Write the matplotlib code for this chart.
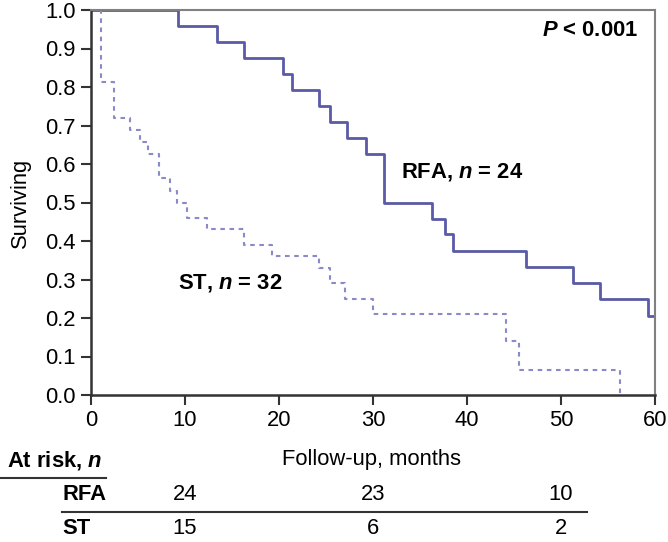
import numpy as np
import matplotlib.pyplot as plt

plt.rcParams['font.family'] = ['Liberation Sans', 'DejaVu Sans']
plt.rcParams['mathtext.fontset'] = 'custom'
plt.rcParams['mathtext.it'] = 'Liberation Sans:italic:bold'
plt.rcParams['mathtext.rm'] = 'Liberation Sans:bold'
plt.rcParams['mathtext.bf'] = 'Liberation Sans:bold'

# Kaplan-Meier steps
rfa_t = [0, 9.3, 13.4, 16.3, 20.4, 21.4, 24.3, 25.4, 27.2, 29.3, 31.2, 36.3, 37.7, 38.5, 46.3, 51.3, 54.2, 59.3, 60]
rfa_s = [1.0, 0.958, 0.917, 0.875, 0.833, 0.792, 0.75, 0.708, 0.667, 0.625, 0.5, 0.458, 0.417, 0.375, 0.333, 0.292, 0.25, 0.205, 0.205]

st_t = [0, 1.1, 2.4, 4.1, 5.2, 6.1, 7.2, 8.4, 9.1, 10.2, 12.3, 16.3, 19.3, 24.3, 25.4, 27.0, 30.0, 44.2, 45.5, 56.3]
st_s = [1.0, 0.813, 0.719, 0.688, 0.656, 0.625, 0.563, 0.531, 0.5, 0.46, 0.43, 0.39, 0.36, 0.33, 0.29, 0.25, 0.21, 0.14, 0.065, 0.0]

risk_months = [10, 30, 50]
risk_rfa = [24, 23, 10]
risk_st = [15, 6, 2]

W, H = 668, 542
FS = 15.8
fig = plt.figure(figsize=(W / 100, H / 100), dpi=100)
ax = fig.add_axes([91 / W, 1 - 395 / H, (655 - 91) / W, (395 - 10) / H])

ax.step(rfa_t, rfa_s, where='post', color='#5a5aa6', lw=2.0)
ax.step(st_t, st_s, where='post', color='#8a8ac8', lw=1.5, dashes=(2.2, 2.2))

ax.set_xlim(0, 60)
ax.set_ylim(0, 1.0)
ax.set_xticks(np.arange(0, 61, 10))
ax.set_yticks(np.arange(0, 1.01, 0.1))
ax.set_yticklabels([f"{v:.1f}" for v in np.arange(0, 1.01, 0.1)])
ax.tick_params(direction='out', length=7, width=1.5, labelsize=FS, color='#333333', pad=4)
for s in ['left', 'bottom']:
    ax.spines[s].set_color('#333333')
    ax.spines[s].set_linewidth(1.8)
for s in ['top', 'right']:
    ax.spines[s].set_color('#808080')
    ax.spines[s].set_linewidth(1.5)
ax.set_ylabel("Surviving", fontsize=FS, labelpad=10)

ax.text(0.97, 0.975, r"$P$ < 0.001", transform=ax.transAxes, ha='right', va='top',
        fontsize=FS, fontweight='bold')
ax.text(39.5, 0.58, r"RFA, $n$ = 24", ha='center', va='center', fontsize=FS, fontweight='bold')
ax.text(14.8, 0.29, r"ST, $n$ = 32", ha='center', va='center', fontsize=FS, fontweight='bold')

def fx(px):
    return px / W

def fy(py):
    return 1 - py / H

fig.text(fx(372), fy(460), "Follow-up, months", ha='center', va='center', fontsize=FS)
fig.text(fx(7), fy(460), r"At risk, $n$", ha='left', va='center', fontsize=FS, fontweight='bold')
fig.add_artist(plt.Line2D([0, fx(106)], [fy(478), fy(478)], color='#333333', lw=1.5))
fig.add_artist(plt.Line2D([fx(62), fx(587)], [fy(512), fy(512)], color='#333333', lw=1.5))
fig.text(fx(62), fy(495), "RFA", ha='left', va='center', fontsize=FS, fontweight='bold')
fig.text(fx(62), fy(529), "ST", ha='left', va='center', fontsize=FS, fontweight='bold')

for m, a, b in zip(risk_months, risk_rfa, risk_st):
    xf = ax.transData.transform((m, 0))[0] / W
    fig.text(xf, fy(495), str(a), ha='center', va='center', fontsize=FS)
    fig.text(xf, fy(529), str(b), ha='center', va='center', fontsize=FS)

fig.savefig('out.png', dpi=100)
